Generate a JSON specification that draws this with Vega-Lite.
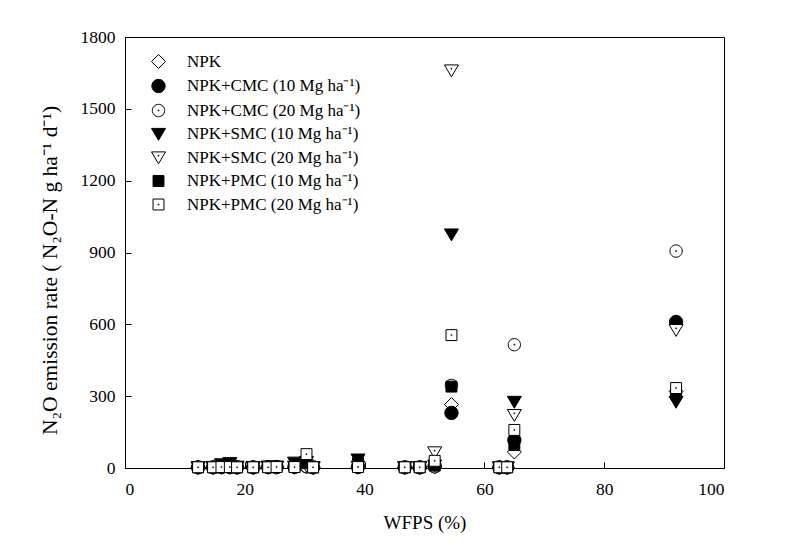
{
  "$schema": "https://vega.github.io/schema/vega-lite/v6.json",
  "width": 599,
  "height": 431,
  "autosize": {"type": "none"},
  "padding": {"left": 125, "top": 37, "right": 65, "bottom": 84},
  "background": "white",
  "config": {
    "view": {"stroke": "black", "strokeWidth": 1},
    "font": "Liberation Serif",
    "axis": {
      "domainColor": "black", "tickColor": "black", "labelColor": "black", "titleColor": "black",
      "grid": false, "labelFont": "Liberation Serif", "titleFont": "Liberation Serif",
      "labelFontSize": 17.5, "titleFontSize": 19, "titleFontWeight": "normal",
      "tickSize": -6, "domainWidth": 1, "tickWidth": 1
    }
  },
  "datasets": {
    "pts": [
      {"w":12.2,"t":"NPK","v":2},{"w":14.7,"t":"NPK","v":2},{"w":16.1,"t":"NPK","v":3},{"w":17.5,"t":"NPK","v":3},{"w":18.7,"t":"NPK","v":2},{"w":21.4,"t":"NPK","v":2},{"w":23.9,"t":"NPK","v":3},{"w":25.3,"t":"NPK","v":3},{"w":28.3,"t":"NPK","v":3},{"w":30.3,"t":"NPK","v":5},{"w":31.4,"t":"NPK","v":2},{"w":38.9,"t":"NPK","v":3},{"w":46.7,"t":"NPK","v":2},{"w":49.2,"t":"NPK","v":2},{"w":51.7,"t":"NPK","v":5},{"w":54.5,"t":"NPK","v":265},{"w":62.5,"t":"NPK","v":2},{"w":63.8,"t":"NPK","v":2},{"w":65,"t":"NPK","v":67},{"w":92,"t":"NPK","v":320},
      {"w":12.2,"t":"NPK+CMC (10 Mg ha⁻¹)","v":3},{"w":14.7,"t":"NPK+CMC (10 Mg ha⁻¹)","v":3},{"w":16.1,"t":"NPK+CMC (10 Mg ha⁻¹)","v":4},{"w":17.5,"t":"NPK+CMC (10 Mg ha⁻¹)","v":4},{"w":18.7,"t":"NPK+CMC (10 Mg ha⁻¹)","v":3},{"w":21.4,"t":"NPK+CMC (10 Mg ha⁻¹)","v":3},{"w":23.9,"t":"NPK+CMC (10 Mg ha⁻¹)","v":4},{"w":25.3,"t":"NPK+CMC (10 Mg ha⁻¹)","v":4},{"w":28.3,"t":"NPK+CMC (10 Mg ha⁻¹)","v":5},{"w":30.3,"t":"NPK+CMC (10 Mg ha⁻¹)","v":8},{"w":31.4,"t":"NPK+CMC (10 Mg ha⁻¹)","v":3},{"w":38.9,"t":"NPK+CMC (10 Mg ha⁻¹)","v":5},{"w":46.7,"t":"NPK+CMC (10 Mg ha⁻¹)","v":3},{"w":49.2,"t":"NPK+CMC (10 Mg ha⁻¹)","v":3},{"w":51.7,"t":"NPK+CMC (10 Mg ha⁻¹)","v":8},{"w":54.5,"t":"NPK+CMC (10 Mg ha⁻¹)","v":230},{"w":62.5,"t":"NPK+CMC (10 Mg ha⁻¹)","v":3},{"w":63.8,"t":"NPK+CMC (10 Mg ha⁻¹)","v":3},{"w":65,"t":"NPK+CMC (10 Mg ha⁻¹)","v":117},{"w":92,"t":"NPK+CMC (10 Mg ha⁻¹)","v":610},
      {"w":12.2,"t":"NPK+CMC (20 Mg ha⁻¹)","v":2},{"w":14.7,"t":"NPK+CMC (20 Mg ha⁻¹)","v":2},{"w":16.1,"t":"NPK+CMC (20 Mg ha⁻¹)","v":3},{"w":17.5,"t":"NPK+CMC (20 Mg ha⁻¹)","v":3},{"w":18.7,"t":"NPK+CMC (20 Mg ha⁻¹)","v":2},{"w":21.4,"t":"NPK+CMC (20 Mg ha⁻¹)","v":2},{"w":23.9,"t":"NPK+CMC (20 Mg ha⁻¹)","v":3},{"w":25.3,"t":"NPK+CMC (20 Mg ha⁻¹)","v":3},{"w":28.3,"t":"NPK+CMC (20 Mg ha⁻¹)","v":4},{"w":30.3,"t":"NPK+CMC (20 Mg ha⁻¹)","v":6},{"w":31.4,"t":"NPK+CMC (20 Mg ha⁻¹)","v":2},{"w":38.9,"t":"NPK+CMC (20 Mg ha⁻¹)","v":3},{"w":46.7,"t":"NPK+CMC (20 Mg ha⁻¹)","v":2},{"w":49.2,"t":"NPK+CMC (20 Mg ha⁻¹)","v":2},{"w":51.7,"t":"NPK+CMC (20 Mg ha⁻¹)","v":5},{"w":54.5,"t":"NPK+CMC (20 Mg ha⁻¹)","v":345},{"w":62.5,"t":"NPK+CMC (20 Mg ha⁻¹)","v":2},{"w":63.8,"t":"NPK+CMC (20 Mg ha⁻¹)","v":2},{"w":65,"t":"NPK+CMC (20 Mg ha⁻¹)","v":515},{"w":92,"t":"NPK+CMC (20 Mg ha⁻¹)","v":906},
      {"w":12.2,"t":"NPK+SMC (10 Mg ha⁻¹)","v":3},{"w":14.7,"t":"NPK+SMC (10 Mg ha⁻¹)","v":4},{"w":16.1,"t":"NPK+SMC (10 Mg ha⁻¹)","v":15},{"w":17.5,"t":"NPK+SMC (10 Mg ha⁻¹)","v":20},{"w":18.7,"t":"NPK+SMC (10 Mg ha⁻¹)","v":5},{"w":21.4,"t":"NPK+SMC (10 Mg ha⁻¹)","v":4},{"w":23.9,"t":"NPK+SMC (10 Mg ha⁻¹)","v":6},{"w":25.3,"t":"NPK+SMC (10 Mg ha⁻¹)","v":6},{"w":28.3,"t":"NPK+SMC (10 Mg ha⁻¹)","v":22},{"w":30.3,"t":"NPK+SMC (10 Mg ha⁻¹)","v":25},{"w":31.4,"t":"NPK+SMC (10 Mg ha⁻¹)","v":3},{"w":38.9,"t":"NPK+SMC (10 Mg ha⁻¹)","v":35},{"w":46.7,"t":"NPK+SMC (10 Mg ha⁻¹)","v":3},{"w":49.2,"t":"NPK+SMC (10 Mg ha⁻¹)","v":4},{"w":51.7,"t":"NPK+SMC (10 Mg ha⁻¹)","v":10},{"w":54.5,"t":"NPK+SMC (10 Mg ha⁻¹)","v":975},{"w":62.5,"t":"NPK+SMC (10 Mg ha⁻¹)","v":2},{"w":63.8,"t":"NPK+SMC (10 Mg ha⁻¹)","v":2},{"w":65,"t":"NPK+SMC (10 Mg ha⁻¹)","v":276},{"w":92,"t":"NPK+SMC (10 Mg ha⁻¹)","v":276},
      {"w":12.2,"t":"NPK+SMC (20 Mg ha⁻¹)","v":2},{"w":14.7,"t":"NPK+SMC (20 Mg ha⁻¹)","v":2},{"w":16.1,"t":"NPK+SMC (20 Mg ha⁻¹)","v":3},{"w":17.5,"t":"NPK+SMC (20 Mg ha⁻¹)","v":3},{"w":18.7,"t":"NPK+SMC (20 Mg ha⁻¹)","v":2},{"w":21.4,"t":"NPK+SMC (20 Mg ha⁻¹)","v":2},{"w":23.9,"t":"NPK+SMC (20 Mg ha⁻¹)","v":3},{"w":25.3,"t":"NPK+SMC (20 Mg ha⁻¹)","v":3},{"w":28.3,"t":"NPK+SMC (20 Mg ha⁻¹)","v":5},{"w":30.3,"t":"NPK+SMC (20 Mg ha⁻¹)","v":10},{"w":31.4,"t":"NPK+SMC (20 Mg ha⁻¹)","v":2},{"w":38.9,"t":"NPK+SMC (20 Mg ha⁻¹)","v":5},{"w":46.7,"t":"NPK+SMC (20 Mg ha⁻¹)","v":2},{"w":49.2,"t":"NPK+SMC (20 Mg ha⁻¹)","v":3},{"w":51.7,"t":"NPK+SMC (20 Mg ha⁻¹)","v":65},{"w":54.5,"t":"NPK+SMC (20 Mg ha⁻¹)","v":1660},{"w":62.5,"t":"NPK+SMC (20 Mg ha⁻¹)","v":2},{"w":63.8,"t":"NPK+SMC (20 Mg ha⁻¹)","v":2},{"w":65,"t":"NPK+SMC (20 Mg ha⁻¹)","v":221},{"w":92,"t":"NPK+SMC (20 Mg ha⁻¹)","v":576},
      {"w":12.2,"t":"NPK+PMC (10 Mg ha⁻¹)","v":3},{"w":14.7,"t":"NPK+PMC (10 Mg ha⁻¹)","v":3},{"w":16.1,"t":"NPK+PMC (10 Mg ha⁻¹)","v":5},{"w":17.5,"t":"NPK+PMC (10 Mg ha⁻¹)","v":5},{"w":18.7,"t":"NPK+PMC (10 Mg ha⁻¹)","v":3},{"w":21.4,"t":"NPK+PMC (10 Mg ha⁻¹)","v":3},{"w":23.9,"t":"NPK+PMC (10 Mg ha⁻¹)","v":4},{"w":25.3,"t":"NPK+PMC (10 Mg ha⁻¹)","v":4},{"w":28.3,"t":"NPK+PMC (10 Mg ha⁻¹)","v":5},{"w":30.3,"t":"NPK+PMC (10 Mg ha⁻¹)","v":20},{"w":31.4,"t":"NPK+PMC (10 Mg ha⁻¹)","v":3},{"w":38.9,"t":"NPK+PMC (10 Mg ha⁻¹)","v":20},{"w":46.7,"t":"NPK+PMC (10 Mg ha⁻¹)","v":3},{"w":49.2,"t":"NPK+PMC (10 Mg ha⁻¹)","v":3},{"w":51.7,"t":"NPK+PMC (10 Mg ha⁻¹)","v":10},{"w":54.5,"t":"NPK+PMC (10 Mg ha⁻¹)","v":340},{"w":62.5,"t":"NPK+PMC (10 Mg ha⁻¹)","v":3},{"w":63.8,"t":"NPK+PMC (10 Mg ha⁻¹)","v":3},{"w":65,"t":"NPK+PMC (10 Mg ha⁻¹)","v":96},{"w":92,"t":"NPK+PMC (10 Mg ha⁻¹)","v":310},
      {"w":12.2,"t":"NPK+PMC (20 Mg ha⁻¹)","v":3},{"w":14.7,"t":"NPK+PMC (20 Mg ha⁻¹)","v":3},{"w":16.1,"t":"NPK+PMC (20 Mg ha⁻¹)","v":4},{"w":17.5,"t":"NPK+PMC (20 Mg ha⁻¹)","v":4},{"w":18.7,"t":"NPK+PMC (20 Mg ha⁻¹)","v":3},{"w":21.4,"t":"NPK+PMC (20 Mg ha⁻¹)","v":3},{"w":23.9,"t":"NPK+PMC (20 Mg ha⁻¹)","v":3},{"w":25.3,"t":"NPK+PMC (20 Mg ha⁻¹)","v":4},{"w":28.3,"t":"NPK+PMC (20 Mg ha⁻¹)","v":4},{"w":30.3,"t":"NPK+PMC (20 Mg ha⁻¹)","v":58},{"w":31.4,"t":"NPK+PMC (20 Mg ha⁻¹)","v":3},{"w":38.9,"t":"NPK+PMC (20 Mg ha⁻¹)","v":4},{"w":46.7,"t":"NPK+PMC (20 Mg ha⁻¹)","v":3},{"w":49.2,"t":"NPK+PMC (20 Mg ha⁻¹)","v":3},{"w":51.7,"t":"NPK+PMC (20 Mg ha⁻¹)","v":30},{"w":54.5,"t":"NPK+PMC (20 Mg ha⁻¹)","v":555},{"w":62.5,"t":"NPK+PMC (20 Mg ha⁻¹)","v":3},{"w":63.8,"t":"NPK+PMC (20 Mg ha⁻¹)","v":3},{"w":65,"t":"NPK+PMC (20 Mg ha⁻¹)","v":159},{"w":92,"t":"NPK+PMC (20 Mg ha⁻¹)","v":334}
    ]
  },
  "data": {"name": "pts"},
  "mark": {"type": "point", "stroke": "black", "strokeWidth": 1, "opacity": 1, "fillOpacity": 1, "strokeOpacity": 1, "size": 196},
  "encoding": {
    "x": {
      "field": "w", "type": "quantitative",
      "scale": {"domain": [0, 100], "nice": false, "zero": false},
      "axis": {"values": [0, 20, 40, 60, 80, 100], "format": "d", "title": "WFPS (%)", "labelPadding": 18, "titlePadding": 16}
    },
    "y": {
      "field": "v", "type": "quantitative",
      "scale": {"domain": [0, 1800], "nice": false},
      "axis": {"values": [0, 300, 600, 900, 1200, 1500, 1800], "format": "d", "title": "N₂O emission rate ( N₂O-N g ha⁻¹ d⁻¹)", "titleFontSize": 21.5, "titleAnchor": "middle", "titleY": 233, "labelPadding": 16, "titlePadding": 19}
    },
    "shape": {
      "field": "t", "type": "nominal",
      "scale": {
        "domain": ["NPK", "NPK+CMC (10 Mg ha⁻¹)", "NPK+CMC (20 Mg ha⁻¹)", "NPK+SMC (10 Mg ha⁻¹)", "NPK+SMC (20 Mg ha⁻¹)", "NPK+PMC (10 Mg ha⁻¹)", "NPK+PMC (20 Mg ha⁻¹)"],
        "range": [
          "M0,-1L1,0L0,1L-1,0Z",
          "M-0.95,0A0.95,0.95,0,1,1,0.95,0A0.95,0.95,0,1,1,-0.95,0Z",
          "M-0.88,0A0.88,0.88,0,1,1,0.88,0A0.88,0.88,0,1,1,-0.88,0ZM-0.08,0A0.08,0.08,0,1,1,0.08,0A0.08,0.08,0,1,1,-0.08,0Z",
          "M-1,-0.8L1,-0.8L0,0.9Z",
          "M-1,-0.8L1,-0.8L0,0.9ZM-0.08,-0.25A0.08,0.08,0,1,1,0.08,-0.25A0.08,0.08,0,1,1,-0.08,-0.25Z",
          "M-0.78,-0.78L0.78,-0.78L0.78,0.78L-0.78,0.78Z",
          "M-0.78,-0.78L0.78,-0.78L0.78,0.78L-0.78,0.78ZM-0.08,0A0.08,0.08,0,1,1,0.08,0A0.08,0.08,0,1,1,-0.08,0Z"
        ]
      },
      "legend": {
        "title": null, "orient": "none", "legendX": 25, "legendY": 16, "padding": 0,
        "labelFont": "Liberation Serif", "labelFontSize": 17, "labelColor": "black", "labelLimit": 300,
        "symbolSize": 196, "symbolStrokeColor": "black", "symbolStrokeWidth": 1, "symbolOpacity": 1,
        "rowPadding": 5.5, "labelOffset": 20,
        "encode": {"symbols": {"update": {"stroke": {"value": "black"}, "strokeWidth": {"value": 1}, "opacity": {"value": 1}}}}
      }
    },
    "fill": {
      "field": "t", "type": "nominal",
      "scale": {
        "domain": ["NPK", "NPK+CMC (10 Mg ha⁻¹)", "NPK+CMC (20 Mg ha⁻¹)", "NPK+SMC (10 Mg ha⁻¹)", "NPK+SMC (20 Mg ha⁻¹)", "NPK+PMC (10 Mg ha⁻¹)", "NPK+PMC (20 Mg ha⁻¹)"],
        "range": ["white", "black", "white", "black", "white", "black", "white"]
      },
      "legend": {
        "title": null, "orient": "none", "legendX": 25, "legendY": 16, "padding": 0,
        "labelFont": "Liberation Serif", "labelFontSize": 17, "labelColor": "black", "labelLimit": 300,
        "symbolSize": 196, "symbolStrokeColor": "black", "symbolStrokeWidth": 1, "symbolOpacity": 1,
        "rowPadding": 5.5, "labelOffset": 20,
        "encode": {"symbols": {"update": {"stroke": {"value": "black"}, "strokeWidth": {"value": 1}, "opacity": {"value": 1}}}}
      }
    }
  }
}
